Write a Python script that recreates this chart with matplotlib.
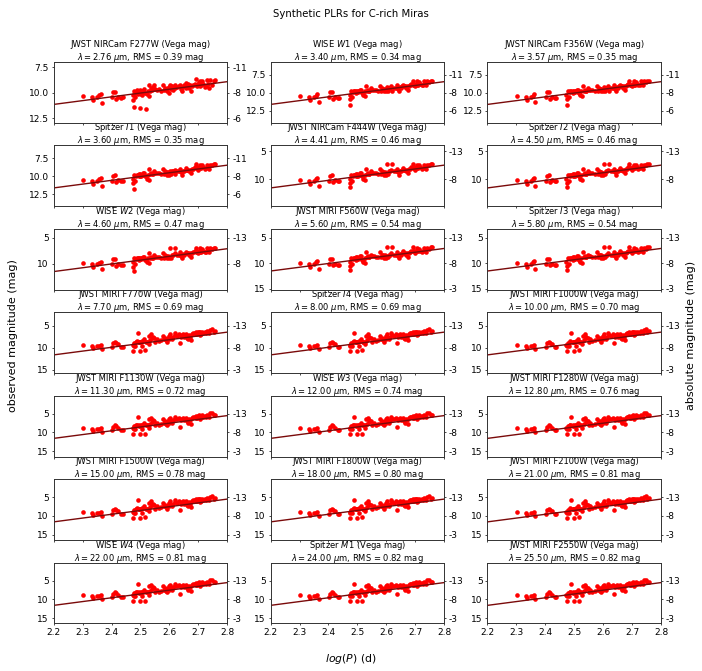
import numpy as np
import matplotlib
matplotlib.use('Agg')
from matplotlib import pyplot as plt

# log period of the Miras (same stars in every band)
logP = [2.302, 2.333, 2.337, 2.351, 2.357, 2.362, 2.366, 2.401, 2.406, 2.412,
        2.415, 2.424, 2.432, 2.438, 2.473, 2.475, 2.476, 2.478, 2.482, 2.484,
        2.487, 2.490, 2.494, 2.496, 2.498, 2.499, 2.502, 2.505, 2.507, 2.510,
        2.513, 2.517, 2.518, 2.521, 2.525, 2.528, 2.531, 2.533, 2.536, 2.540,
        2.542, 2.548, 2.552, 2.556, 2.563, 2.571, 2.579, 2.583, 2.586, 2.589,
        2.591, 2.594, 2.598, 2.600, 2.603, 2.606, 2.610, 2.614, 2.618, 2.621,
        2.626, 2.633, 2.637, 2.641, 2.644, 2.647, 2.652, 2.656, 2.658, 2.661,
        2.664, 2.668, 2.672, 2.676, 2.679, 2.681, 2.687, 2.691, 2.693, 2.695,
        2.699, 2.702, 2.705, 2.707, 2.710, 2.714, 2.716, 2.722, 2.726, 2.730,
        2.734, 2.737, 2.742, 2.749, 2.753, 2.757]

# observed magnitudes, read per group of similar looking bands
mag_f277w = [10.33, 10.42, 10.71, 10.42, 10.26, 10.07, 10.97, 10.42, 9.90, 9.90,
             10.65, 10.39, 10.49, 10.42, 10.23, 10.75, 11.40, 9.84, 10.42, 10.00,
             9.74, 10.10, 9.84, 9.94, 9.68, 11.53, 10.10, 9.84, 10.23, 9.77,
             9.58, 9.97, 11.56, 10.16, 9.77, 10.33, 9.26, 9.84, 9.51, 9.71,
             9.45, 9.19, 9.64, 9.68, 9.61, 9.77, 9.26, 9.71, 9.51, 9.61,
             9.77, 9.51, 9.45, 10.00, 9.19, 9.58, 9.35, 9.71, 9.19, 9.51,
             9.45, 9.32, 9.19, 9.58, 9.84, 9.45, 9.19, 9.51, 9.03, 9.35,
             9.13, 9.51, 9.26, 9.77, 9.32, 9.26, 9.09, 8.67, 9.19, 9.35,
             9.13, 8.93, 9.35, 8.87, 9.19, 8.80, 9.13, 9.45, 9.32, 8.74,
             9.13, 9.51, 8.74, 9.19, 8.80, 8.74]

mag_w1_f356w_i1 = [10.47, 10.60, 11.01, 10.60, 10.38, 10.24, 11.28, 10.60, 9.92, 9.88,
                   10.83, 10.56, 10.69, 10.69, 10.33, 10.92, 11.69, 9.79, 10.60, 9.92,
                   9.79, 9.79, 10.01, 9.70, 9.70, 9.92, 9.92, 9.79, 9.79, 9.56,
                   9.56, 10.01, 10.01, 10.33, 9.79, 10.47, 9.01, 9.70, 9.56, 9.70,
                   9.70, 9.33, 9.56, 9.56, 9.60, 9.70, 9.01, 9.70, 9.33, 9.42,
                   9.79, 9.42, 9.56, 9.79, 9.24, 9.70, 9.33, 9.33, 9.10, 9.70,
                   9.33, 9.33, 8.97, 9.47, 9.79, 9.24, 9.33, 9.10, 8.88, 9.10,
                   9.10, 9.33, 9.10, 9.60, 9.06, 8.97, 8.79, 8.33, 8.88, 8.88,
                   9.10, 8.79, 8.88, 8.42, 8.88, 8.51, 8.79, 8.97, 8.88, 8.42,
                   8.70, 8.97, 8.42, 8.51, 8.33, 8.33]

mag_f444w_i2 = [10.03, 10.21, 10.73, 10.21, 9.92, 9.74, 11.08, 10.21, 9.33, 9.27,
                10.50, 10.15, 10.32, 10.32, 9.86, 10.62, 11.32, 9.16, 10.21, 9.33,
                9.16, 9.16, 9.45, 9.04, 9.04, 9.33, 9.33, 9.16, 9.16, 8.86,
                8.86, 9.45, 9.45, 9.86, 9.16, 10.03, 8.16, 9.04, 8.86, 9.04,
                9.04, 8.57, 8.86, 8.86, 8.92, 9.04, 8.16, 9.04, 8.57, 8.69,
                9.16, 8.69, 8.86, 9.16, 7.29, 9.04, 8.57, 8.57, 8.28, 7.29,
                8.57, 8.57, 8.10, 8.75, 9.16, 8.46, 8.57, 8.28, 7.99, 8.28,
                8.28, 8.57, 8.28, 8.92, 8.22, 8.10, 7.87, 7.29, 7.99, 7.99,
                8.28, 7.87, 7.99, 7.40, 7.99, 7.52, 7.87, 8.10, 7.99, 7.40,
                7.75, 8.10, 7.40, 7.52, 7.29, 7.29]

mag_w2_f560w_i3 = [9.90, 10.09, 10.66, 10.09, 9.77, 9.58, 11.05, 10.09, 9.13, 9.07,
                   10.41, 10.03, 10.22, 10.22, 9.71, 10.54, 11.30, 8.94, 10.09, 9.13,
                   8.94, 8.94, 9.26, 8.81, 8.81, 9.13, 9.13, 8.94, 8.94, 8.62,
                   8.62, 9.26, 9.26, 9.71, 8.94, 9.90, 7.86, 8.81, 8.62, 8.81,
                   8.81, 8.30, 8.62, 8.62, 8.69, 8.81, 7.86, 8.81, 8.30, 8.43,
                   8.94, 8.43, 8.62, 8.94, 6.90, 8.81, 8.30, 8.30, 7.99, 6.90,
                   8.30, 8.30, 7.79, 8.50, 8.94, 8.18, 8.30, 7.99, 7.67, 7.99,
                   7.99, 8.30, 7.99, 8.69, 7.92, 7.79, 7.54, 6.90, 7.67, 7.67,
                   7.99, 7.54, 7.67, 7.03, 7.67, 7.16, 7.54, 7.79, 7.67, 7.03,
                   7.41, 7.79, 7.03, 7.16, 6.90, 6.90]

mag_f770w_i4_f1000w = [9.35, 9.50, 9.95, 9.50, 9.58, 9.35, 10.26, 9.73, 8.97, 8.60,
                       8.82, 9.20, 9.73, 9.73, 9.35, 10.63, 9.50, 8.82, 9.50, 8.60,
                       8.44, 6.71, 8.60, 8.75, 10.71, 8.75, 8.60, 9.50, 8.44, 8.44,
                       7.99, 10.56, 8.60, 8.60, 8.60, 9.20, 7.24, 8.22, 6.93, 7.84,
                       7.46, 7.69, 8.60, 7.99, 8.44, 8.29, 7.24, 7.99, 7.69, 8.22,
                       8.60, 7.69, 7.24, 7.99, 6.93, 7.69, 7.99, 7.46, 6.71, 7.09,
                       7.24, 6.93, 8.97, 7.46, 7.09, 6.93, 7.46, 7.09, 6.93, 7.69,
                       7.99, 7.09, 7.46, 8.29, 6.93, 6.71, 6.71, 6.48, 6.93, 6.93,
                       6.48, 6.33, 7.09, 6.48, 6.78, 6.33, 6.71, 6.48, 6.71, 6.18,
                       6.48, 6.71, 5.88, 5.73, 6.33, 6.18]

mag_long = [8.96, 9.14, 9.66, 9.14, 9.22, 8.96, 10.01, 9.40, 8.52, 8.08,
            8.35, 8.79, 9.40, 9.40, 8.96, 10.45, 9.14, 8.35, 9.14, 8.08,
            7.91, 5.89, 8.08, 8.26, 10.54, 8.26, 8.08, 9.14, 7.91, 7.91,
            7.38, 10.36, 8.08, 8.08, 8.08, 8.79, 6.51, 7.65, 6.16, 7.21,
            6.77, 7.03, 8.08, 7.38, 7.91, 7.73, 6.51, 7.38, 7.03, 7.65,
            8.08, 7.03, 6.51, 7.38, 6.16, 7.03, 7.38, 6.77, 5.89, 6.33,
            6.51, 6.16, 8.52, 6.77, 6.33, 6.16, 6.77, 6.33, 6.16, 7.03,
            7.38, 6.33, 6.77, 7.73, 6.16, 5.89, 5.89, 5.63, 6.16, 6.16,
            5.63, 5.46, 6.33, 5.63, 5.98, 5.46, 5.89, 5.63, 5.89, 5.28,
            5.63, 5.89, 4.93, 4.76, 5.46, 5.28]

# bands, in plotting order
bands = ['JWST NIRCam F277W', 'WISE $W1$', 'JWST NIRCam F356W', 'Spitzer $I1$',
         'JWST NIRCam F444W', 'Spitzer $I2$', 'WISE $W2$', 'JWST MIRI F560W',
         'Spitzer $I3$', 'JWST MIRI F770W', 'Spitzer $I4$', 'JWST MIRI F1000W',
         'JWST MIRI F1130W', 'WISE $W3$', 'JWST MIRI F1280W', 'JWST MIRI F1500W',
         'JWST MIRI F1800W', 'JWST MIRI F2100W', 'WISE $W4$', 'Spitzer $M1$',
         'JWST MIRI F2550W']
wavelength = [2.76, 3.40, 3.57, 3.60, 4.41, 4.50, 4.60, 5.60, 5.80, 7.70, 8.00,
              10.00, 11.30, 12.00, 12.80, 15.00, 18.00, 21.00, 22.00, 24.00, 25.50]
rms = [0.39, 0.34, 0.35, 0.35, 0.46, 0.46, 0.47, 0.54, 0.54, 0.69, 0.69,
       0.70, 0.72, 0.74, 0.76, 0.78, 0.80, 0.81, 0.81, 0.82, 0.82]

# PLR fit: magnitude at logP = 2.5 and slope
plr_zp = [10.02, 10.04, 10.04, 10.04, 9.48, 9.48, 9.29, 9.29, 9.29, 9.01, 9.01,
          9.01, 8.56, 8.56, 8.56, 8.56, 8.56, 8.56, 8.56, 8.56, 8.56]
plr_slope = [-3.73, -5.22, -5.22, -5.22, -6.72, -6.72, -7.33, -7.33, -7.33,
             -8.68, -8.68, -8.68, -10.08, -10.08, -10.08, -10.08, -10.08,
             -10.08, -10.08, -10.08, -10.08]

mags = ([mag_f277w] + [mag_w1_f356w_i1] * 3 + [mag_f444w_i2] * 2
        + [mag_w2_f560w_i3] * 3 + [mag_f770w_i4_f1000w] * 3 + [mag_long] * 9)

# LMC distance modulus
mu = 18.477

ylims = ([(12.92, 6.92)] + [(14.1, 5.7)] * 3 + [(14.7, 3.9)] * 2
         + [(14.95, 3.2), (15.1, 3.2), (15.1, 3.2)] + [(15.76, 1.8)] * 3
         + [(16.4, 0.2)] * 9)

plt.rcParams['font.size'] = 6.5
plt.rcParams['axes.linewidth'] = 0.6
plt.rcParams['axes.edgecolor'] = '#333333'
for a in ['xtick', 'ytick']:
    plt.rcParams[a + '.major.size'] = 1.75
    plt.rcParams[a + '.major.width'] = 0.5
    plt.rcParams[a + '.major.pad'] = 1.75

fig, axes = plt.subplots(7, 3, figsize=(7.02, 6.71), dpi=100, sharex=True)
fig.subplots_adjust(left=0.0765, right=0.9416, top=0.9083, bottom=0.0708,
                    wspace=0.25, hspace=0.369)

xfit = np.array([2.2, 2.8])
for i, ax in enumerate(axes.flat):
    ax.scatter(logP, mags[i], s=11, color='red', linewidths=0, zorder=2)
    ax.plot(xfit, plr_zp[i] + plr_slope[i] * (xfit - 2.5), color='#7a0a0a',
            lw=1.0, zorder=3)
    ax.set_xlim(2.2, 2.8)
    ax.set_ylim(ylims[i])
    lo, hi = ylims[i][1], ylims[i][0]
    if hi - lo < 8.6:
        ticks = [t for t in [7.5, 10.0, 12.5] if lo <= t <= hi]
    else:
        ticks = [t for t in [5, 10, 15] if lo <= t <= hi]
    ax.set_yticks(ticks)
    # two title lines placed by hand so they stay clear of the panel above
    ax.annotate(bands[i] + ' (Vega mag)', xy=(0.5, 1), xycoords='axes fraction',
                xytext=(0, 10.6), textcoords='offset points',
                ha='center', va='baseline', fontsize=6.0)
    ax.annotate(r'$\lambda = %.2f$ $\mu$m, RMS = %.2f mag' % (wavelength[i], rms[i]),
                xy=(0.5, 1), xycoords='axes fraction',
                xytext=(0, 1.3), textcoords='offset points',
                ha='center', va='baseline', fontsize=6.0)
    ax2 = ax.twinx()
    ax2.set_ylim(ylims[i])
    ax2.set_yticks(ticks)
    ax2.set_yticklabels(['%d' % round(t - mu) for t in ticks])

axes[-1, 0].set_xticks([2.2, 2.3, 2.4, 2.5, 2.6, 2.7, 2.8])

fig.suptitle('Synthetic PLRs for C-rich Miras', fontsize=7.3, y=0.986)
fig.supxlabel('$log(P)$ (d)', fontsize=7.8, y=0.008)
fig.supylabel('observed magnitude (mag)', fontsize=8, x=0.012)
fig.text(0.984, 0.5, 'absolute magnitude (mag)', rotation=90, fontsize=8,
         ha='center', va='center')

plt.savefig('out.png', dpi=100)
